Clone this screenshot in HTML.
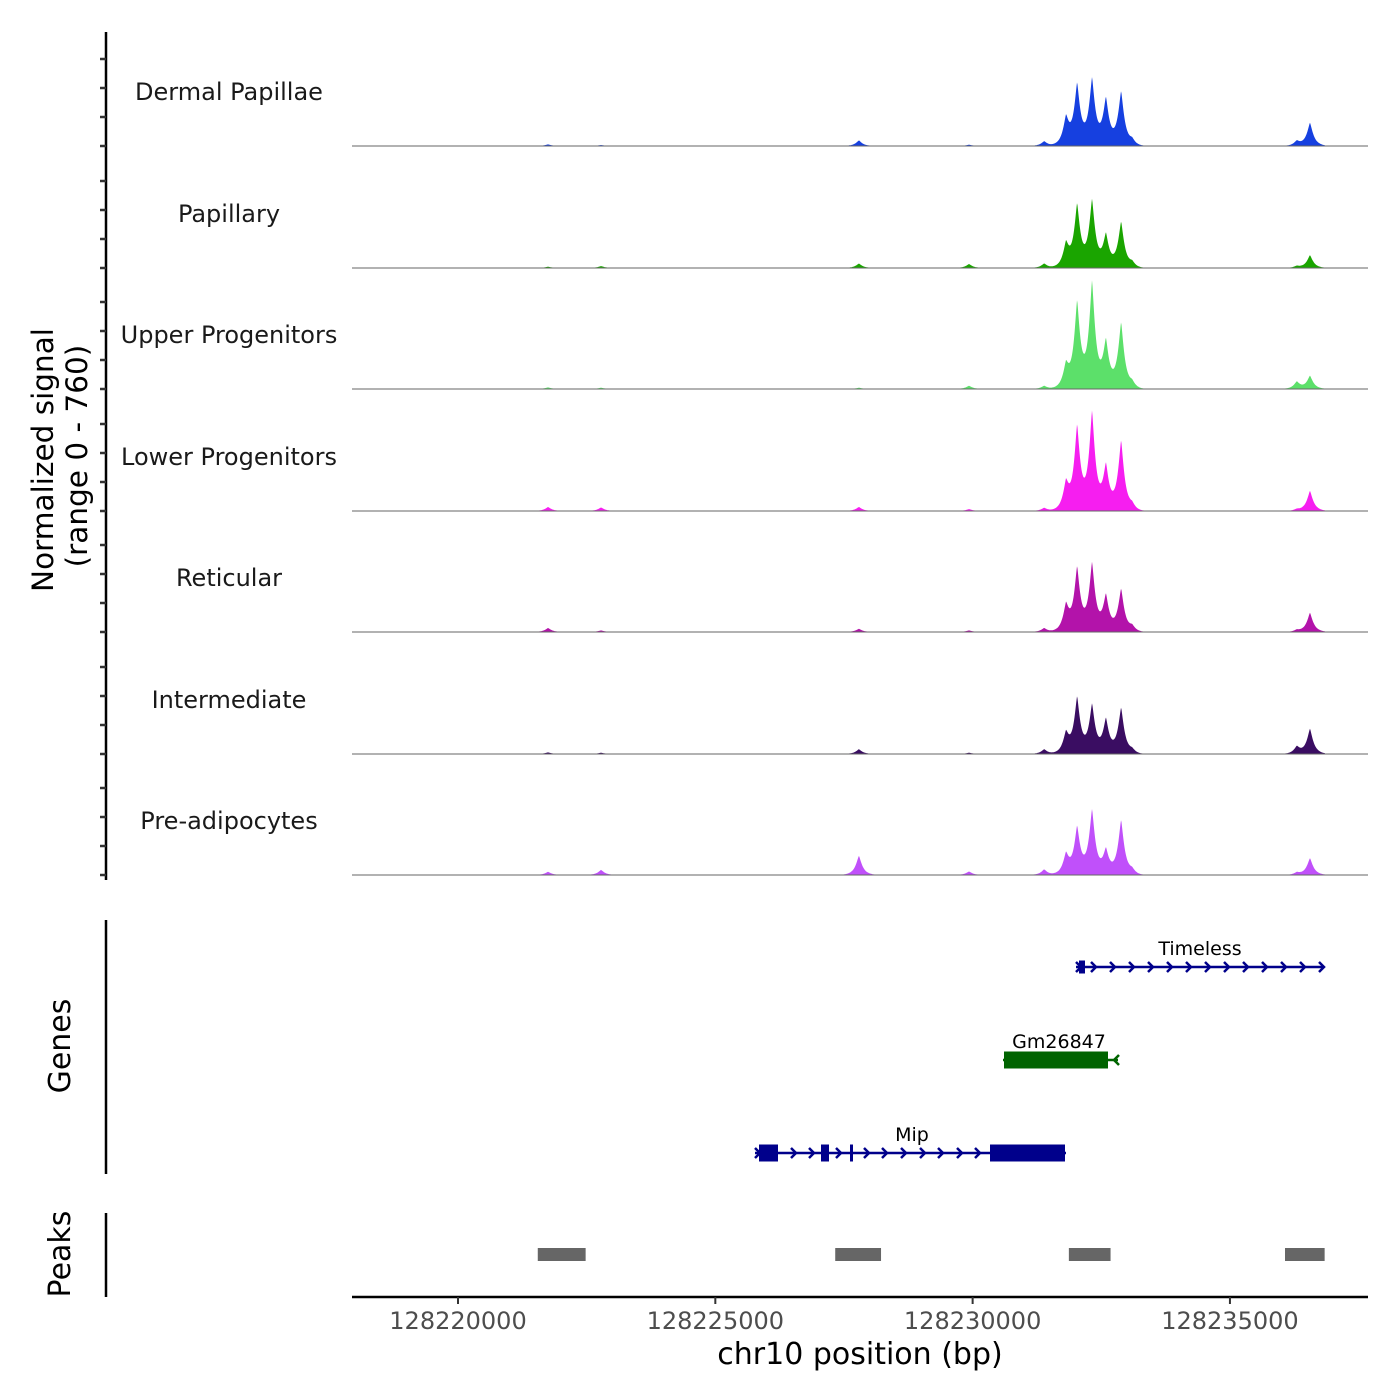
<!DOCTYPE html>
<html><head><meta charset="utf-8"><style>
html,body{margin:0;padding:0;background:#fff;}
svg{display:block;font-family:"DejaVu Sans","Liberation Sans",sans-serif;}
</style></head><body>
<svg id="chart" width="1400" height="1400" viewBox="0 0 1400 1400" xmlns="http://www.w3.org/2000/svg">
<rect width="1400" height="1400" fill="#fff"/>
<g id="tracks"></g>
<g id="leftaxis"><line x1="106" y1="32" x2="106" y2="880" stroke="#000" stroke-width="2.5"/></g>
<text transform="translate(53,460) rotate(-90)" text-anchor="middle" font-size="29.5">Normalized signal</text>
<text transform="translate(87,456) rotate(-90)" text-anchor="middle" font-size="29.5">(range 0 - 760)</text>
<line x1="106" y1="920" x2="106" y2="1174" stroke="#000" stroke-width="2.5"/>
<text transform="translate(70,1046) rotate(-90)" text-anchor="middle" font-size="30">Genes</text>
<line x1="106" y1="1213" x2="106" y2="1297" stroke="#000" stroke-width="2.5"/>
<text transform="translate(70,1254) rotate(-90)" text-anchor="middle" font-size="30">Peaks</text>
<g id="genes"></g>
<g id="peaks"></g>
<g id="xaxis"><line x1="352" y1="1297" x2="1368" y2="1297" stroke="#000" stroke-width="2.5"/></g>
<text x="860" y="1364" text-anchor="middle" font-size="30">chr10 position (bp)</text>
</svg>
<script>
const NS="http://www.w3.org/2000/svg";
const cellTypes=["Dermal Papillae","Papillary","Upper Progenitors","Lower Progenitors","Reticular","Intermediate","Pre-adipocytes"];
const trackColors=["#1640e0","#1aa500","#5ce06a","#f61ef0","#b313aa","#3a0d62","#c050fa"];
const peakPositions=[128221750,128222780,128227790,128229930,128231390,128231815,128232030,128232320,128232590,128232885,128233100,128236300,128236555];
const signalDP=[10,6,35,8,30,170,375,410,285,335,30,30,145];
const signalPA=[8,12,28,25,28,145,385,415,200,285,28,12,80];
const signalUP=[10,8,8,20,20,140,530,655,285,410,30,45,82];
const signalLP=[25,22,25,12,20,165,515,605,270,435,30,10,126];
const signalRE=[25,10,20,10,25,160,390,420,220,265,30,12,120];
const signalIN=[10,8,30,8,30,125,345,300,210,285,20,45,157];
const signalPR=[20,32,120,22,35,125,290,400,150,340,25,15,105];
const allSignals=[signalDP,signalPA,signalUP,signalLP,signalRE,signalIN,signalPR];
const xTicks=[128220000,128225000,128230000,128235000];
const xTickLabels=["128220000","128225000","128230000","128235000"];
const dataStart=128218900, dataEnd=128236850;
const X0=128217940, PXPERBP=0.051462;
const xs=v=>352+(v-X0)*PXPERBP;
const baselines=[146,268,389,511,632,754,875];
const ys=(v,b)=>b-v*121/760;
function el(t,a,p){const e=document.createElementNS(NS,t);for(const k in a)e.setAttribute(k,a[k]);p.appendChild(e);return e;}
const tracks=document.getElementById('tracks');
const w=70; // bp
cellTypes.forEach((name,i)=>{
  const b=baselines[i];
  const g=el('g',{},tracks);
  
  
  const lab=el('text',{x:229,y:b-46,'text-anchor':'middle','font-size':24,fill:'#1a1a1a'},g);
  lab.textContent=name;
  
  
  let d='M'+xs(dataStart)+','+b;
  for(let px=Math.ceil(xs(dataStart));px<=xs(dataEnd);px+=0.5){
    const bp=X0+(px-352)/PXPERBP;
    let v=0;
    peakPositions.forEach((p,j)=>{const z=Math.abs(bp-p)/w;v+=allSignals[i][j]*(0.8*Math.exp(-Math.pow(z,1.3))+0.2*Math.exp(-z*z/9));});
    d+=' L'+px.toFixed(1)+','+ys(v,b).toFixed(1);
  }
  d+=' L'+xs(dataEnd)+','+b+' Z';
  const a=el('path',{d:d,fill:trackColors[i]},g);
  
  
  const bl=el('line',{x1:352,x2:1368,y1:b,y2:b,stroke:'#666','stroke-width':1},g);
  
  
  for(let k=0;k<4;k++){
    const t=el('line',{x1:100,x2:106,y1:b-29*k,y2:b-29*k,stroke:'#333','stroke-width':2.5},document.getElementById('leftaxis'));
    
    
  }
});
const genes=document.getElementById('genes');
function arrow(x,y,c,dir){const p=el('path',{d:`M${x-3*dir},${y-5} L${x+2*dir},${y} L${x-3*dir},${y+5}`,fill:'none',stroke:c,'stroke-width':2.5},genes);}
function gene(name,x1,x2,y,c,exons,arrows,dir,lx){
  const g=el('g',{},genes);
  
  
  el('line',{x1:x1,x2:x2,y1:y,y2:y,stroke:c,'stroke-width':2.5},g);
  exons.forEach(e=>el('rect',{x:e[0],y:y-e[2]/2,width:e[1]-e[0],height:e[2],fill:c},g));
  arrows.forEach(a=>arrow(a,y,c,dir));
  const t=el('text',{x:lx,y:y-12,'text-anchor':'middle','font-size':19,fill:'#000'},g);t.textContent=name;
}
gene('Timeless',1076,1324,967,'#00008b',[[1079,1085,13]],[1079,1094,1113,1132,1151,1170,1189,1208,1227,1246,1265,1284,1303,1322],1,1200);
gene('Gm26847',1003,1118,1060,'#006400',[[1004,1108,17]],[1116],-1,1059);
gene('Mip',755,1066,1153,'#00008b',[[759,778,17],[821,829,17],[850,853,17],[990,1065,17]],[758,794,812,839,867,885,904,923,941,960,978],1,912);
const peakStarts=[128221550,128227330,128231870,128236070];
const peakEnds=[128222480,128228220,128232680,128236840];
const pg=document.getElementById('peaks');
peakStarts.forEach((s,i)=>{const r=el('rect',{x:xs(s),y:1248,width:xs(peakEnds[i])-xs(s),height:13,fill:'#666'},pg);

});
const xa=document.getElementById('xaxis');
xTicks.forEach((t,i)=>{el('line',{x1:xs(t),x2:xs(t),y1:1297,y2:1304,stroke:'#333','stroke-width':2},xa);
const tx=el('text',{x:xs(t),y:1329,'text-anchor':'middle','font-size':24,fill:'#4d4d4d'},xa);tx.textContent=xTickLabels[i];

});
</script>
</body></html>
